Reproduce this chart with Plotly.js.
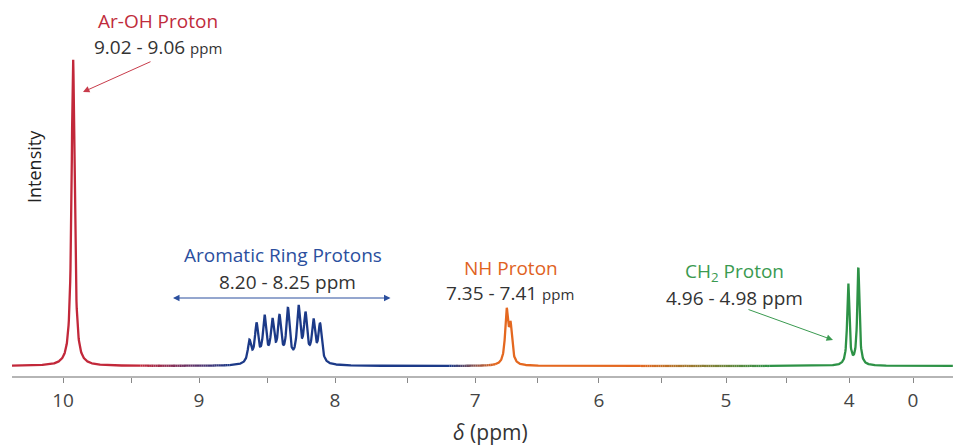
<!DOCTYPE html>
<html>
<head>
<meta charset="utf-8">
<script src="https://cdn.plot.ly/plotly-3.0.1.min.js"></script>
<style>
  html, body { margin: 0; padding: 0; background: #fff; }
  #chart { width: 953px; height: 445px; }
</style>
</head>
<body>
<div id="chart"></div>
<script>
// ---------- data ----------
// peak centres on the drawn δ scale, peak heights (relative intensity), half widths
const peakPos    = [9.926,
                    8.629, 8.577, 8.518, 8.460, 8.408, 8.346, 8.268, 8.217, 8.158, 8.110,
                    6.738, 6.709,
                    4.226, 4.152];
const peakHeight = [1.00,
                    0.071, 0.123, 0.146, 0.130, 0.140, 0.169, 0.175, 0.149, 0.130, 0.123,
                    0.169, 0.115,
                    0.265, 0.315];
const peakWidth  = [0.0129,
                    0.0147, 0.0147, 0.0147, 0.0147, 0.0147, 0.0147, 0.0147, 0.0147, 0.0147, 0.0147,
                    0.0132, 0.0132,
                    0.0095, 0.0095];

// axis ticks (positions on the drawn scale) and their labels
const tickPos  = [10, 9.5, 9.0, 8.5, 8.0, 7.47, 6.97, 6.51, 6.06, 5.60, 5.125, 4.68, 4.22, 3.75];
const tickText = ["10", "", "9", "", "8", "", "7", "", "6", "", "5", "", "4", "0"];

const groupNames  = ["Ar-OH Proton", "Aromatic Ring Protons", "NH Proton", "CH<sub>2</sub> Proton"];
const groupRanges = ["9.02 - 9.06", "8.20 - 8.25", "7.35 - 7.41", "4.96 - 4.98"];

// ---------- layout constants ----------
const W = 953, H = 445;
const M = {l: 12, r: 0, t: 0, b: 69};
const xRange = [10.375, 3.456];
const yRange = [-0.0325, 1.188];
const plotW = W - M.l - M.r, plotH = H - M.t - M.b;

const RED = [194, 40, 58], BLUE = [28, 58, 136], ORANGE = [228, 104, 32], GREEN = [45, 146, 70];

function u2px(u) { return M.l + (xRange[0] - u) / (xRange[0] - xRange[1]) * plotW; }
function mix(a, b, t) { return a.map((v, i) => Math.round(v + (b[i] - v) * t)); }
function colorAt(px) {
  let c;
  if (px < 140) c = RED;
  else if (px < 230) c = mix(RED, BLUE, (px - 140) / 90);
  else if (px < 450) c = BLUE;
  else if (px < 495) c = mix(BLUE, ORANGE, (px - 450) / 45);
  else if (px < 640) c = ORANGE;
  else if (px < 770) c = mix(ORANGE, GREEN, (px - 640) / 130);
  else c = GREEN;
  return 'rgb(' + c.join(',') + ')';
}

// ---------- spectrum from the peak table ----------
const xs = [], ys = [];
for (let u = xRange[0]; u >= xRange[1] - 1e-9; u -= 0.002) {
  let s = 0;
  for (let k = 0; k < peakPos.length; k++) {
    const d = (u - peakPos[k]) / peakWidth[k];
    s += peakHeight[k] / (1 + d * d);
  }
  xs.push(u); ys.push(s);
}

const traces = [];
const CH = 8;
let cur = null;
for (let i = 0; i < xs.length - 1; i += CH) {
  const j = Math.min(i + CH, xs.length - 1);
  const col = colorAt(u2px(xs[Math.floor((i + j) / 2)]));
  if (!cur || cur.line.color !== col) {
    cur = {type: 'scatter', mode: 'lines', x: [], y: [], hoverinfo: 'skip',
           line: {color: col, width: 2.3, shape: 'linear'}, showlegend: false};
    traces.push(cur);
    for (let k = i; k <= j; k++) { cur.x.push(xs[k]); cur.y.push(ys[k]); }
  } else {
    for (let k = i + 1; k <= j; k++) { cur.x.push(xs[k]); cur.y.push(ys[k]); }
  }
}

// ---------- annotations (pixel positions converted to paper) ----------
function PX(px) { return (px - M.l) / plotW; }
function PY(py) { return (H - M.b - py) / plotH; }
const FONT = 'Open Sans, Noto Sans, sans-serif';
function label(txt, px, py, color, size) {
  return {xref: 'paper', yref: 'paper', x: PX(px), y: PY(py), text: txt, showarrow: false,
          xanchor: 'center', yanchor: 'middle', font: {family: FONT, size: size || 19, color: color}};
}
function arrow(hx, hy, tx, ty, color, both) {
  const a = {xref: 'paper', yref: 'paper', x: PX(hx), y: PY(hy), text: '', showarrow: true,
             ax: tx - hx, ay: ty - hy, arrowcolor: color, arrowwidth: 1, arrowhead: 2,
             arrowsize: 1.3, standoff: 0, startstandoff: 0};
  if (both) { a.arrowside = 'end+start'; a.startarrowhead = 2; a.startarrowsize = 1.3; }
  return a;
}
const GREY = '#333333';
const sm = s => s + ' <span style="font-size:15px">ppm</span>';
const annotations = [
  label(groupNames[0], 158, 21, 'rgb(192,44,60)'),
  label(sm(groupRanges[0]), 158, 47, GREY),
  arrow(83, 92, 152, 61, 'rgb(200,60,75)'),

  label(groupNames[1], 283, 255, 'rgb(43,79,158)'),
  label(groupRanges[1] + ' ppm', 287, 282, GREY),
  arrow(173, 298, 392, 298, 'rgb(43,79,158)', true),

  label(groupNames[2], 511, 268, 'rgb(224,98,30)'),
  label(sm(groupRanges[2]), 510, 293, GREY),

  label(groupNames[3], 734, 272, 'rgb(58,154,80)'),
  label(groupRanges[3] + ' ppm', 734, 298, GREY),
  arrow(833, 340, 747, 309, 'rgb(58,154,80)'),

  {xref: 'paper', yref: 'paper', x: PX(34), y: PY(167), text: 'Intensity', showarrow: false,
   textangle: -90, xanchor: 'center', yanchor: 'middle', font: {family: FONT, size: 18, color: '#222'}},
  {xref: 'paper', yref: 'paper', x: PX(490), y: PY(432), text: '<i>δ</i> (ppm)', showarrow: false,
   xanchor: 'center', yanchor: 'middle', font: {family: FONT, size: 21, color: '#333'}}
];

const layout = {
  width: W, height: H,
  margin: M,
  paper_bgcolor: '#fff', plot_bgcolor: '#fff',
  showlegend: false,
  hovermode: false,
  xaxis: {range: xRange, tickmode: 'array', tickvals: tickPos, ticktext: tickText,
          showgrid: false, zeroline: false, showline: true, linecolor: '#b5b5b5', linewidth: 2,
          ticks: 'outside', ticklen: 5, tickwidth: 1, tickcolor: '#888',
          ticklabelstandoff: 1,
          tickfont: {family: FONT, size: 19, color: '#444'}},
  yaxis: {range: yRange, visible: false, showgrid: false, zeroline: false},
  annotations: annotations
};

Plotly.newPlot('chart', traces, layout, {staticPlot: true, displayModeBar: false});
</script>
</body>
</html>
